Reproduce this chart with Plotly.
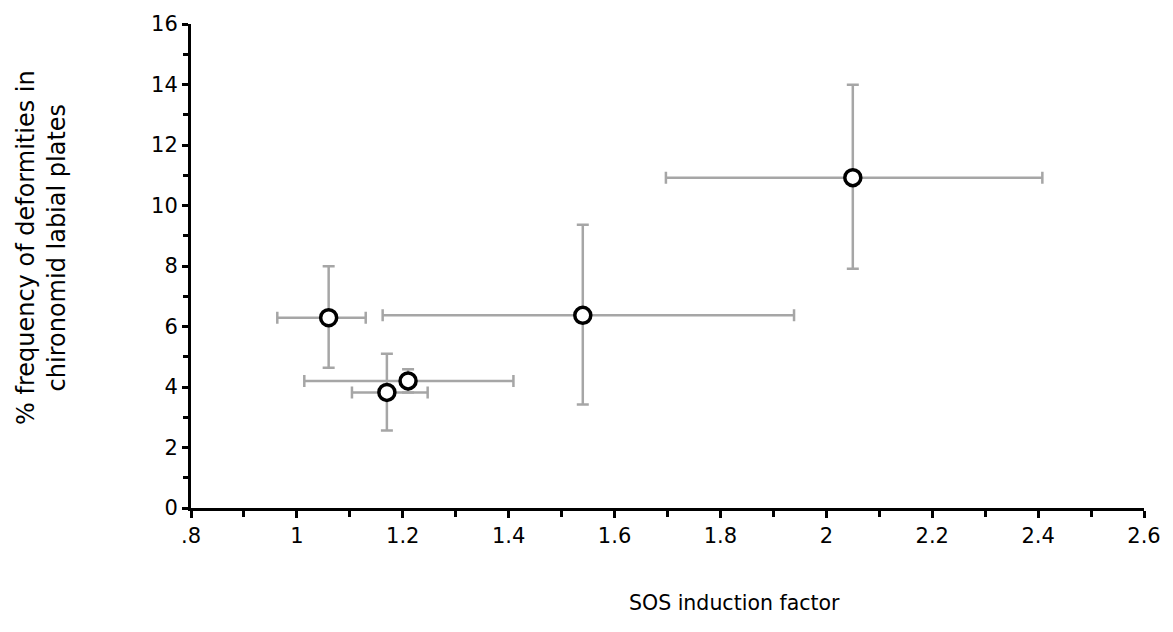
import plotly.graph_objects as go

# Data
sos_factor = [1.06, 1.17, 1.21, 1.54, 2.05]
deformity_pct = [6.29, 3.82, 4.20, 6.37, 10.92]
sos_low = [0.963, 1.104, 1.014, 1.162, 1.697]
sos_high = [1.130, 1.247, 1.409, 1.939, 2.408]
def_low = [4.64, 2.56, 3.82, 3.42, 7.91]
def_high = [7.99, 5.10, 4.59, 9.36, 13.99]

x_tickvals = [0.8, 1.0, 1.2, 1.4, 1.6, 1.8, 2.0, 2.2, 2.4, 2.6]
x_ticktext = [".8", "1", "1.2", "1.4", "1.6", "1.8", "2", "2.2", "2.4", "2.6"]
y_tickvals = [0, 2, 4, 6, 8, 10, 12, 14, 16]
y_ticktext = ["0", "2", "4", "6", "8", "10", "12", "14", "16"]

x_plus = [h - v for h, v in zip(sos_high, sos_factor)]
x_minus = [v - l for l, v in zip(sos_low, sos_factor)]
y_plus = [h - v for h, v in zip(def_high, deformity_pct)]
y_minus = [v - l for l, v in zip(def_low, deformity_pct)]

FONT = "DejaVu Sans, Liberation Sans, Arial, sans-serif"
ERR_COLOR = "#a6a6a6"

fig = go.Figure()
fig.add_trace(go.Scatter(
    x=sos_factor, y=deformity_pct, mode="markers",
    marker=dict(symbol="circle", size=16, color="white",
                line=dict(color="black", width=3.5)),
    error_x=dict(type="data", symmetric=False, array=x_plus, arrayminus=x_minus,
                 color=ERR_COLOR, thickness=2.5, width=6),
    error_y=dict(type="data", symmetric=False, array=y_plus, arrayminus=y_minus,
                 color=ERR_COLOR, thickness=2.5, width=6),
    showlegend=False,
))

fig.update_layout(
    width=1173, height=632,
    margin=dict(l=191, r=26, t=21, b=124),
    paper_bgcolor="white", plot_bgcolor="white",
    font=dict(family=FONT, color="black", size=21),
    xaxis=dict(range=[0.8, 2.6], tickvals=x_tickvals, ticktext=x_ticktext,
               showgrid=False, zeroline=False, showline=True, linecolor="black",
               linewidth=3, ticks="outside", ticklen=7, tickwidth=2.5,
               tickcolor="black", tickfont=dict(size=21, family=FONT),
               minor=dict(dtick=0.1, ticks="outside", ticklen=6, tickwidth=2.5,
                          tickcolor="black", showgrid=False)),
    yaxis=dict(range=[0, 16], tickvals=y_tickvals, ticktext=y_ticktext,
               showgrid=False, zeroline=False, showline=True, linecolor="black",
               linewidth=3, ticks="outside", ticklen=6, tickwidth=2.5,
               tickcolor="black", tickfont=dict(size=21, family=FONT),
               minor=dict(dtick=1, ticks="outside", ticklen=5, tickwidth=2.5,
                          tickcolor="black", showgrid=False)),
    annotations=[
        dict(text="% frequency of deformities in<br>chironomid labial plates",
             xref="paper", yref="paper", x=-0.157, y=0.538, xanchor="center",
             yanchor="middle", textangle=-90, showarrow=False,
             font=dict(size=24, family=FONT, color="black")),
        dict(text="SOS induction factor", xref="paper", yref="paper",
             x=0.57, y=-0.197, xanchor="center", yanchor="middle",
             showarrow=False, font=dict(size=20.5, family=FONT, color="black")),
    ],
)

fig.write_html("out.html")
